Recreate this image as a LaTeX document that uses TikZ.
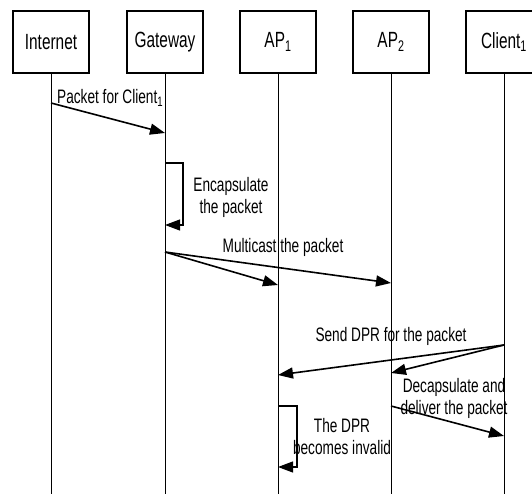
\documentclass[tikz,border=0pt]{standalone}
\usepackage{fontspec}
\setmainfont[FakeStretch=0.7]{Liberation Sans}
\usetikzlibrary{positioning,arrows.meta}
\tikzset{
	>={Triangle[length=15pt,width=11pt]}
}
\newcommand{\lifeline}[3]{
	\node[head] (#1) at (#2,42) {#3};
	\draw[life] (#1.south) -- (#1.south |- 0,494);}

\begin{document}
\begin{tikzpicture}[
x = 1pt, y = -1pt,
head/.style = {
	draw,
	line width = 1.2pt,
	minimum width = 76pt,
	minimum height = 62pt,
	font = \fontsize{22}{24}\selectfont,
},
life/.style = {line width = 1pt},
msg/.style = {->, line width = 1.6pt},
selfmsg/.style = {->, line width = 1.1pt},
lbl/.style = {
	font = \fontsize{19.5}{22}\selectfont,
	align = center,
	inner sep = 0pt,
}
]
\useasboundingbox (0,0) rectangle (532,494);

\lifeline{inet}{51}{Internet}
\lifeline{gw}{165}{Gateway}
\lifeline{ap1}{278}{AP\textsubscript{1}}
\lifeline{ap2}{391}{AP\textsubscript{2}}
\lifeline{cli}{504}{Client\textsubscript{1}}

% points on the lifelines
\coordinate (inet-pkt) at (inet |- 0,103);
\coordinate (gw-pkt) at (gw |- 0,133);
\coordinate (gw-enc) at (gw |- 0,163);
\coordinate (gw-mc) at (gw |- 0,252);
\coordinate (ap1-mc) at (ap1 |- 0,285);
\coordinate (ap2-mc) at (ap2 |- 0,283);
\coordinate (cli-dpr) at (cli |- 0,345);
\coordinate (ap1-dpr) at (ap1 |- 0,375);
\coordinate (ap2-dpr) at (ap2 |- 0,373);
\coordinate (ap2-dlv) at (ap2 |- 0,406);
\coordinate (cli-dlv) at (cli |- 0,436);
\coordinate (ap1-inv) at (ap1 |- 0,406);

\draw[msg] (inet-pkt) -- (gw-pkt);
\node[lbl, anchor=west] (pkt) at (57,98) {Packet for Client\textsubscript{1}};

\draw[selfmsg] (gw-enc) -- +(18,0) -- +(18,62) -- +(0,62);
\node[lbl] (enc) at (231,197) {Encapsulate\\the packet};

\draw[msg] (gw-mc) -- (ap1-mc);
\draw[msg] (gw-mc) -- (ap2-mc);
\node[lbl] (mc) at (283,247) {Multicast the packet};

\draw[msg] (cli-dpr) -- (ap1-dpr);
\draw[msg] (cli-dpr) -- (ap2-dpr);
\node[lbl] (dpr) at (391,336) {Send DPR for the packet};

\draw[msg] (ap2-dlv) -- (cli-dlv);
\node[lbl] (dlv) at (454,398) {Decapsulate and\\deliver the packet};

\draw[selfmsg] (ap1-inv) -- +(19,0) -- +(19,61) -- +(0,61);
\node[lbl] (inv) at (342,437) {The DPR\\becomes invalid};

\end{tikzpicture}
\end{document}
